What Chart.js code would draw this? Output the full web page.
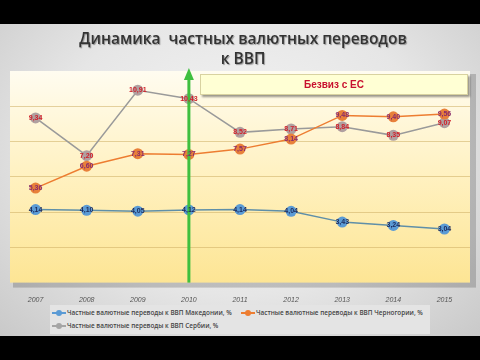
<!DOCTYPE html>
<html>
<head>
<meta charset="utf-8">
<script src="https://cdn.jsdelivr.net/npm/chart.js@4/dist/chart.umd.min.js"></script>
<style>
  html, body { margin: 0; padding: 0; }
  body { width: 480px; height: 360px; background: #000; position: relative; overflow: hidden; font-family: "Open Sans", sans-serif; }
  #slide { position: absolute; left: 0; top: 24px; width: 480px; height: 312px;
    background: radial-gradient(ellipse at 50% 40%, #f4f4f4 0%, #e6e6e6 55%, #c9c9c9 100%); }
  #title { position: absolute; left: 0; width: 486px; top: 28px; text-align: center; color: #333;
    font-size: 15.5px; font-weight: 600; line-height: 20px; text-shadow: 1px 1px 1px rgba(0,0,0,0.35); }
  #chart { position: absolute; left: 0; top: 0; }
  #note { position: absolute; left: 200px; top: 74px; width: 266px; height: 19px; background: #ffffd4;
    border: 1px solid #d8d2a0; box-shadow: 2px 2px 2px rgba(0,0,0,0.4); text-align: center;
    color: #c8102e; font-weight: 700; font-size: 10px; line-height: 19px; font-family: "Liberation Sans", sans-serif; }
  #legend { position: absolute; left: 50px; top: 305px; width: 380px; height: 29px; background: #e4e4e4;
    font-size: 6.4px; font-weight: 600; color: #444; }
  .item { position: absolute; white-space: nowrap; line-height: 10px; }
  .mk { display: inline-block; position: relative; width: 14px; height: 10px; vertical-align: top; margin-right: 1px; }
  .mk:before { content: ""; position: absolute; left: 0; right: 0; top: 4px; height: 2px; background: var(--c); }
  .mk:after { content: ""; position: absolute; left: 4px; top: 2px; width: 6px; height: 6px; border-radius: 3px; background: var(--c); }
</style>
</head>
<body>
<div id="slide"></div>
<canvas id="chart" width="480" height="360"></canvas>
<div id="title">Динамика&nbsp; частных валютных переводов<br>к ВВП</div>
<div id="note">Безвиз с ЕС</div>
<div id="legend">
  <div class="item" style="left:2px;top:3px"><span class="mk" style="--c:#5b9bd5"></span>Частные валютные переводы к ВВП Македонии, %</div>
  <div class="item" style="left:191px;top:3px"><span class="mk" style="--c:#ed7d31"></span>Частные валютные переводы к ВВП Черногории, %</div>
  <div class="item" style="left:2px;top:16px"><span class="mk" style="--c:#a5a5a5"></span>Частные валютные переводы к ВВП Сербии, %</div>
</div>
<script>
const years = ['2007', '2008', '2009', '2010', '2011', '2012', '2013', '2014', '2015'];
const macedonia = [4.14, 4.10, 4.05, 4.12, 4.14, 4.04, 3.43, 3.24, 3.04];
const montenegro = [5.36, 6.60, 7.31, 7.27, 7.57, 8.14, 9.48, 9.40, 9.56];
const serbia = [9.34, 7.20, 10.91, 10.43, 8.52, 8.71, 8.84, 8.35, 9.07];
const visaFreeYear = '2010';

// yellow plot area with shadow
const plotBg = {
  id: 'plotBg',
  beforeDraw(chart) {
    const { ctx, chartArea: a } = chart;
    ctx.save();
    ctx.fillStyle = 'rgba(0,0,0,0.18)';
    ctx.fillRect(a.left + 3, a.top + 3, a.width + 3, a.height + 2);
    const g = ctx.createLinearGradient(0, a.top, 0, a.bottom);
    g.addColorStop(0, '#fffcf0');
    g.addColorStop(0.5, '#fff1c0');
    g.addColorStop(1, '#fde594');
    ctx.fillStyle = g;
    ctx.fillRect(a.left, a.top, a.width, a.height);
    ctx.restore();
  }
};

// green arrow at visa-free year
const arrow = {
  id: 'arrow',
  afterDatasetsDraw(chart) {
    const { ctx, chartArea: a } = chart;
    const x = chart.scales.x.getPixelForValue(years.indexOf(visaFreeYear));
    ctx.save();
    ctx.strokeStyle = '#3fbf3f';
    ctx.fillStyle = '#3fbf3f';
    ctx.lineWidth = 3;
    ctx.beginPath();
    ctx.moveTo(x, a.bottom);
    ctx.lineTo(x, a.top + 6);
    ctx.stroke();
    ctx.beginPath();
    ctx.moveTo(x, a.top - 3);
    ctx.lineTo(x - 5, a.top + 9);
    ctx.lineTo(x + 5, a.top + 9);
    ctx.closePath();
    ctx.fill();
    ctx.restore();
  }
};

// value labels on markers
const labelColors = ['#1c2b5c', '#8a2a6a', '#d0202a'];
const valueLabels = {
  id: 'valueLabels',
  afterDatasetsDraw(chart) {
    const { ctx } = chart;
    ctx.save();
    ctx.font = 'bold 7px "Liberation Sans", sans-serif';
    ctx.textAlign = 'center';
    ctx.textBaseline = 'middle';
    chart.data.datasets.forEach((ds, i) => {
      ctx.fillStyle = labelColors[i];
      chart.getDatasetMeta(i).data.forEach((pt, j) => {
        ctx.fillText(ds.data[j].toFixed(2).replace('.', ','), pt.x, pt.y);
      });
    });
    ctx.restore();
  }
};

new Chart(document.getElementById('chart'), {
  type: 'line',
  data: {
    labels: years,
    datasets: [
      { label: 'Частные валютные переводы к ВВП Македонии, %', data: macedonia,
        borderColor: '#5f8fa8', backgroundColor: '#5b9bd5', pointBackgroundColor: '#5b9bd5', pointBorderWidth: 0, borderWidth: 1.5, pointRadius: 5.5 },
      { label: 'Частные валютные переводы к ВВП Черногории, %', data: montenegro,
        borderColor: '#ed7d31', backgroundColor: '#ed7d31', pointBackgroundColor: '#e8803a', pointBorderWidth: 0, borderWidth: 1.5, pointRadius: 5.5 },
      { label: 'Частные валютные переводы к ВВП Сербии, %', data: serbia,
        borderColor: '#9a9a9a', backgroundColor: '#a5a5a5', pointBackgroundColor: '#b0a0a0', pointBorderWidth: 0, borderWidth: 1.5, pointRadius: 5.5 }
    ]
  },
  options: {
    responsive: false,
    animation: false,
    layout: { padding: { left: 10, right: 10, top: 71, bottom: 43 } },
    plugins: { legend: { display: false }, tooltip: { enabled: false } },
    scales: {
      x: {
        offset: true,
        grid: { display: false, drawTicks: false },
        border: { display: false },
        ticks: { padding: 13, color: '#555', font: { size: 7, style: 'italic', family: 'Liberation Sans' } }
      },
      y: {
        min: 0, max: 12,
        ticks: { display: false, stepSize: 2 },
        border: { display: false },
        grid: { drawTicks: false, color: c => (c.tick.value === 0 || c.tick.value === 12) ? 'rgba(0,0,0,0)' : 'rgba(205,175,100,0.55)' }
      }
    }
  },
  plugins: [plotBg, arrow, valueLabels]
});
</script>
</body>
</html>
